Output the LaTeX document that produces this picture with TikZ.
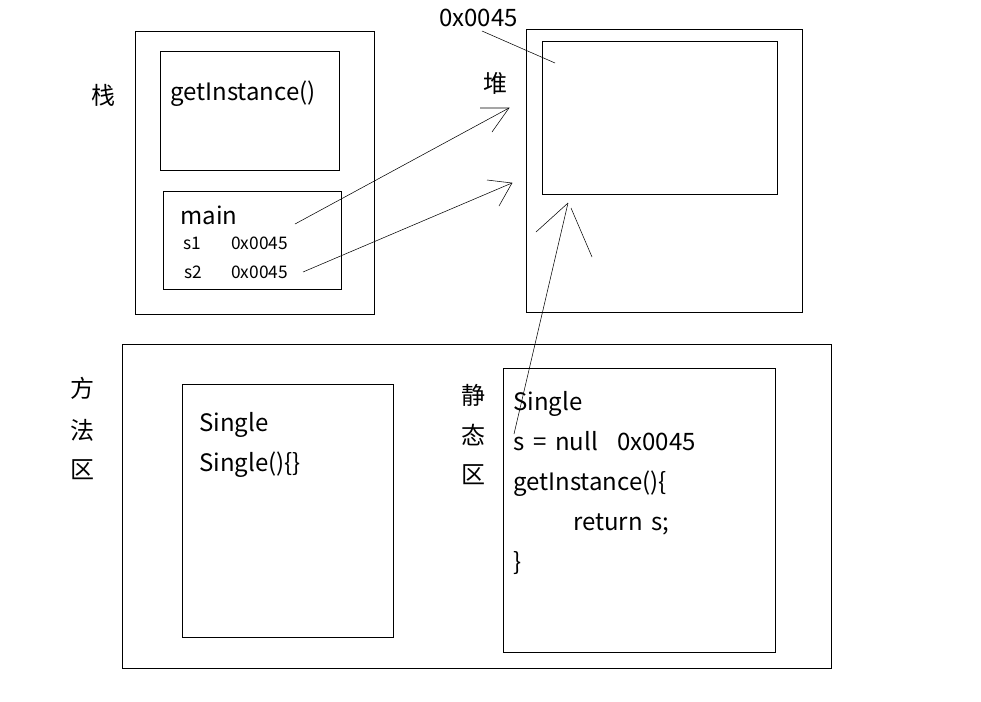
\documentclass[tikz,border=0pt]{standalone}
\usepackage{fontspec}
\setmainfont[WordSpace=1.6]{Noto Sans CJK SC}
\usetikzlibrary{positioning}

\tikzset{
  box/.style={draw,thin},
  big/.style={font=\fontsize{18}{21}\selectfont,inner sep=0pt},
  small/.style={font=\fontsize{13}{15}\selectfont,inner sep=0pt},
  ptr/.style={draw,thin}
}

\begin{document}
\begin{tikzpicture}[x=0.75pt,y=-0.75pt]
\useasboundingbox (0,0) rectangle (981,701);
% stack
\draw[box] (135,31) rectangle (374,314);
\draw[box] (160,51) rectangle (339,170);
\draw[box] (163,191) rectangle (341,289);
\node[big] (zhan) at (103,95) {栈};
\node[big,anchor=base west] (getinst) at (170,100) {getInstance()};
\node[big,anchor=base west] (main) at (180,224) {main};
\node[small,anchor=base west] (s1) at (183,249) {s1};
\node[small,anchor=base west] (s1v) at (231,249) {0x0045};
\node[small,anchor=base west] (s2) at (184,278) {s2};
\node[small,anchor=base west] (s2v) at (231,278) {0x0045};
% heap
\draw[box] (526,29) rectangle (802,312);
\draw[box] (542,41) rectangle (777,194);
\node[big] (dui) at (495,83) {堆};
\node[big,anchor=base west] (addr) at (439,26) {0x0045};
\coordinate (addrend) at (555,63);
\draw[ptr] (482,31) -- (addrend);
% method area
\draw[box] (122,344) rectangle (831,668);
\draw[box] (182,384) rectangle (393,637);
\draw[box] (503,368) rectangle (775,652);
\node[big] (fang) at (82,388) {方};
\node[big] (fa) at (82,430) {法};
\node[big] (qu) at (82,470) {区};
\node[big] (jing) at (473,395) {静};
\node[big] (tai) at (473,435) {态};
\node[big] (qu2) at (473,475) {区};
\node[big,anchor=base west] (cls) at (199,431) {Single};
\node[big,anchor=base west] (ctor) at (199,471) {Single()\{\}};
\node[big,anchor=base west] (scls) at (513,410) {Single};
\node[big,anchor=base west] (sfield) at (513,450) {s = null};
\node[big,anchor=base west] (sval) at (617,450) {0x0045};
\node[big,anchor=base west] (sget) at (513,490) {getInstance()\{};
\node[big,anchor=base west] (sret) at (573,530) {return s;};
\node[big,anchor=base west] (sclose) at (513,570) {\}};
% pointers
\coordinate (s1start) at (295,224);
\coordinate (s1tip) at (509,108);
\draw[ptr] (s1start) -- (s1tip);
\draw[ptr] (480,108) -- (s1tip) -- (492,132);
\coordinate (s2start) at (303,272);
\coordinate (s2tip) at (512,183);
\draw[ptr] (s2start) -- (s2tip);
\draw[ptr] (487,180) -- (s2tip) -- (499,206);
\coordinate (sstart) at (514,434);
\coordinate (stip) at (568,203);
\draw[ptr] (sstart) -- (stip);
\draw[ptr] (536,232) -- (stip);
\draw[ptr] (571,208) -- (592,257);
\end{tikzpicture}
\end{document}
